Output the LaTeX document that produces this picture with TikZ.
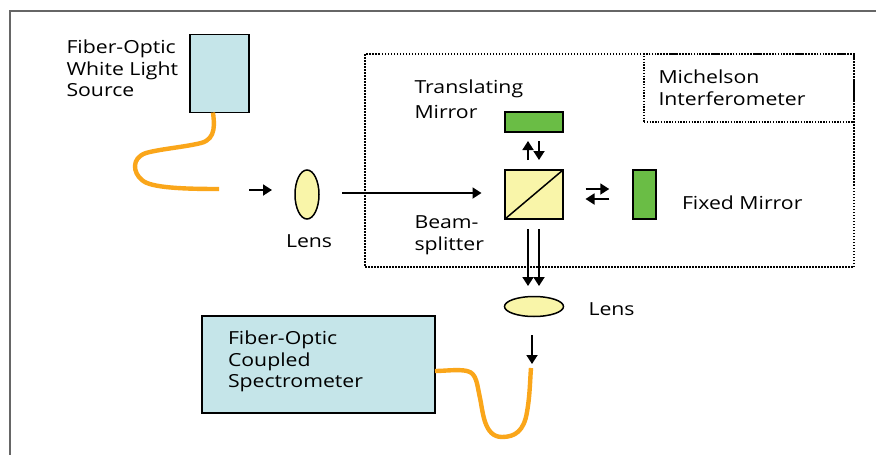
\documentclass[tikz,border=0pt]{standalone}
\usepackage{fontspec}
\setmainfont[FakeStretch=1.18]{Open Sans}
\usetikzlibrary{arrows.meta,shapes.geometric,calc}
\definecolor{boxblue}{HTML}{C5E5E9}
\definecolor{paleyellow}{HTML}{F9F5A9}
\definecolor{mirrorgreen}{HTML}{6ABD45}
\definecolor{fiberorange}{HTML}{FAA61A}
\definecolor{framegrey}{HTML}{666666}
\tikzset{
  x=1pt,y=-1pt,
  bluebox/.style={draw=black,line width=1.6pt,inner sep=0pt,outer sep=0pt,fill=boxblue},
  yellowbox/.style={draw=black,line width=1.6pt,inner sep=0pt,outer sep=0pt,fill=paleyellow},
  mirrorbox/.style={draw=black,line width=1.6pt,inner sep=0pt,outer sep=0pt,fill=mirrorgreen},
  lensshape/.style={ellipse,draw=black,line width=1.5pt,fill=paleyellow,inner sep=0pt,outer sep=0pt},
  fiber/.style={draw=fiberorange,line width=4.4pt},
  beam/.style={draw=black,line width=1.8pt,-{Triangle[length=9pt,width=11pt]}},
  dotbox/.style={draw=black,line width=1.7pt,dash pattern=on 1.5pt off 1.5pt},
  thindot/.style={draw=black,line width=1.2pt,dash pattern=on 1.4pt off 1.4pt},
  label/.style={font=\fontsize{18}{21.5}\selectfont,align=left,anchor=north west,inner sep=0pt,outer sep=0pt}
}
\begin{document}
\begin{tikzpicture}
\useasboundingbox (0,0) rectangle (876,455);
\fill[white] (0,0) rectangle (876,455);
% outer frame
\draw[framegrey,line width=1.5pt] (10,455) -- (10,11) -- (876,11);
% dotted enclosure
\node[dotbox,minimum width=489pt,minimum height=213pt,inner sep=0pt,outer sep=0pt] (mi) at (609.5,160.5) {};
\node[thindot,minimum width=210pt,minimum height=68pt,inner sep=0pt,outer sep=0pt] (mlabelbox) at (749,88) {};
% boxes
\node[bluebox,minimum width=58.5pt,minimum height=78pt] (src) at (219.5,73.5) {};
\node[bluebox,minimum width=233pt,minimum height=97pt] (spec) at (318.5,364.5) {};
\node[mirrorbox,minimum width=58pt,minimum height=20pt] (tm) at (534,122) {};
\node[yellowbox,minimum width=58pt,minimum height=49pt] (bs) at (534,194.5) {};
\draw[line width=1.5pt] (bs.south west) -- (bs.north east);
\node[mirrorbox,minimum width=23.5pt,minimum height=49pt] (fm) at (644.5,194.5) {};
\node[lensshape,minimum width=24pt,minimum height=49pt] (l1) at (307,194.5) {};
\node[lensshape,minimum width=59pt,minimum height=20pt] (l2) at (534,306.5) {};
% fibers
\coordinate (f1end) at (219,189);
\coordinate (f2end) at (531,368);
\draw[fiber] (src.south -| 213,0) .. controls (214,122) and (217,139) .. (201,143)
  .. controls (185,147) and (160,149) .. (146,153)
  .. controls (131,158) and (133,173) .. (142,180)
  .. controls (150,188) and (185,189) .. (f1end);
\draw[fiber] (spec.east |- 0,371) .. controls (445,371) and (458,369) .. (467,371)
  .. controls (477,373) and (477,385) .. (480,398)
  .. controls (483,412) and (484,437) .. (502,437)
  .. controls (515,437) and (524,431) .. (527,412)
  .. controls (530,395) and (530,380) .. (f2end);
% beams
\coordinate (a1) at (249,190); \coordinate (a1e) at (272,190);
\draw[beam] (a1) -- (a1e);
\draw[beam] ([xshift=23pt,yshift=1.5pt]l1.east) -- ([xshift=-23.5pt,yshift=1.5pt]bs.west);
\draw[beam] ([xshift=-6pt,yshift=10pt]bs.north) -- ([xshift=-6pt,yshift=-9pt]tm.south);
\draw[beam] ([xshift=5pt,yshift=-9pt]tm.south) -- ([xshift=5pt,yshift=10pt]bs.north);
\draw[beam] ([xshift=22.5pt,yshift=5.5pt]bs.east) -- ([xshift=-23.5pt,yshift=5.5pt]fm.west);
\draw[beam] ([xshift=-23.5pt,yshift=-4.5pt]fm.west) -- ([xshift=22.5pt,yshift=-4.5pt]bs.east);
\draw[beam] ([xshift=-6pt,yshift=-10pt]bs.south) -- ([xshift=-6pt,yshift=10.5pt]l2.north);
\draw[beam] ([xshift=5pt,yshift=-10pt]bs.south) -- ([xshift=5pt,yshift=10.5pt]l2.north);
\draw[beam] ([xshift=-2pt,yshift=-18.5pt]l2.south) -- ([xshift=-2pt,yshift=4pt]f2end -| l2.south);
% labels
\node[label] (t1) at (66.5,40) {Fiber-Optic\\White Light\\Source};
\node[label] (t2) at (414.5,80) {Translating};
\node[label] (t3) at (414.5,105.5) {Mirror};
\node[label] (t4) at (658.5,70) {Michelson\\Interferometer};
\node[label] (t5) at (682,196) {Fixed Mirror};
\node[label] (t6) at (286,235) {Lens};
\node[label] (t7) at (414.5,216) {Beam-\\splitter};
\node[label] (t8) at (588.5,303) {Lens};
\node[label] (t9) at (228,331) {Fiber-Optic\\Coupled\\Spectrometer};
\end{tikzpicture}
\end{document}
